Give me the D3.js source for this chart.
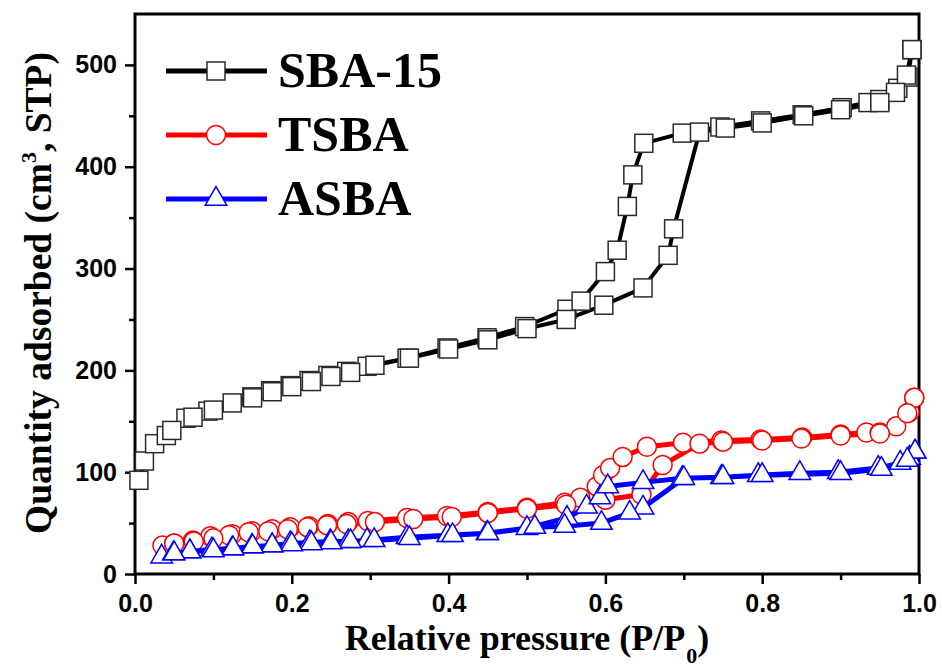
<!DOCTYPE html>
<html><head><meta charset="utf-8">
<script src="https://cdn.jsdelivr.net/npm/d3@7"></script>
<style>body{margin:0;background:#fff}svg{display:block}</style>
</head><body>
<svg id="chart" width="942" height="668"></svg>
<script>
// ---- data ----
const seriesNames = ["SBA-15", "TSBA", "ASBA"];
const xTickValues = [0, 0.2, 0.4, 0.6, 0.8, 1.0];
const xMinorTicks = [0.1, 0.3, 0.5, 0.7, 0.9];
const yTickValues = [0, 100, 200, 300, 400, 500];
const yMinorTicks = [50, 150, 250, 350, 450];

const sbaAdsorption = [[0.005,92],[0.012,111],[0.025,128],[0.04,136],[0.065,153],[0.093,160],[0.124,168],[0.149,174],[0.173,180],[0.198,185],[0.222,190],[0.246,195],[0.27,199],[0.296,204],[0.347,212],[0.398,222],[0.449,232],[0.497,243],[0.551,260],[0.569,268],[0.6,297],[0.615,318],[0.628,361],[0.635,392],[0.649,423],[0.698,433],[0.746,439],[0.798,445],[0.851,451],[0.902,458],[0.935,463],[0.95,466],[0.973,477],[0.986,488],[0.991,515]];
const sbaDesorption = [[0.991,515],[0.984,490],[0.97,473],[0.95,463],[0.9,456],[0.853,450],[0.8,443],[0.753,438],[0.72,434],[0.687,339],[0.68,313],[0.648,281],[0.598,264],[0.55,250],[0.5,241],[0.45,230],[0.4,221],[0.35,212],[0.306,205],[0.275,198],[0.25,194],[0.225,189],[0.2,184],[0.175,179],[0.15,173],[0.1,161],[0.074,154],[0.047,141]];

const tsbaAdsorption = [[0.035,28],[0.05,30],[0.074,33],[0.096,37],[0.124,39],[0.149,42],[0.175,44],[0.198,46],[0.222,47],[0.246,49],[0.272,51],[0.297,52],[0.347,55],[0.398,57],[0.45,61],[0.5,65],[0.548,70],[0.568,75],[0.589,86],[0.597,97],[0.606,104],[0.622,115],[0.653,125],[0.699,129],[0.748,131],[0.798,132],[0.851,134],[0.9,137],[0.933,139],[0.95,139],[0.971,145],[0.988,159],[0.994,173]];
const tsbaDesorption = [[0.994,173],[0.985,158],[0.95,138],[0.9,136],[0.85,133],[0.8,131],[0.75,130],[0.72,128],[0.673,107],[0.646,78],[0.6,73],[0.55,68],[0.5,64],[0.45,60],[0.404,56],[0.355,54],[0.306,51],[0.27,49],[0.245,48],[0.22,46],[0.195,44],[0.17,42],[0.145,41],[0.12,38],[0.1,35],[0.075,32],[0.05,30]];

const asbaAdsorption = [[0.034,17],[0.049,20],[0.07,22],[0.098,24],[0.124,25],[0.149,27],[0.175,28],[0.198,30],[0.223,31],[0.249,32],[0.272,32],[0.296,33],[0.347,36],[0.399,38],[0.449,40],[0.5,45],[0.551,55],[0.576,66],[0.593,75],[0.603,86],[0.648,90],[0.698,94],[0.748,95],[0.795,97],[0.848,99],[0.897,100],[0.948,104],[0.976,109],[0.988,114],[0.995,120]];
const asbaDesorption = [[0.995,120],[0.985,112],[0.952,103],[0.9,99],[0.8,97],[0.75,95],[0.7,94],[0.648,65],[0.631,60],[0.595,50],[0.548,47],[0.51,46],[0.45,40],[0.405,38],[0.35,35],[0.305,33],[0.275,32],[0.25,31],[0.225,30],[0.2,29],[0.175,28],[0.15,27],[0.125,25],[0.1,23],[0.07,22],[0.05,20]];

const seriesColors = ["#000000", "#ff0000", "#0000ff"];
const markerStroke = ["#2a2a2a", "#ff0000", "#0000ff"];

// ---- layout ----
const svg = d3.select("#chart");
const x = d3.scaleLinear().domain([0, 1]).range([135, 919]);
const y = d3.scaleLinear().domain([0, 550]).range([574, 14]);

const tickFont = "'Liberation Sans', Arial, sans-serif";
const serif = "'Liberation Serif', 'Times New Roman', serif";

// minor ticks
svg.append("g").attr("transform", "translate(0,574)")
  .call(d3.axisBottom(x).tickValues(xMinorTicks).tickSize(6).tickFormat(""))
  .call(g => g.select(".domain").remove())
  .call(g => g.selectAll("line").attr("stroke-width", 2.5));
svg.append("g").attr("transform", "translate(135,0)")
  .call(d3.axisLeft(y).tickValues(yMinorTicks).tickSize(6).tickFormat(""))
  .call(g => g.select(".domain").remove())
  .call(g => g.selectAll("line").attr("stroke-width", 2.5));

// major ticks
svg.append("g").attr("transform", "translate(0,574)")
  .call(d3.axisBottom(x).tickValues(xTickValues).tickSize(10).tickPadding(10).tickFormat(d3.format(".1f")))
  .call(g => g.select(".domain").remove())
  .call(g => g.selectAll("line").attr("stroke-width", 2.5))
  .call(g => g.selectAll("text").attr("font-family", tickFont).attr("font-weight", "bold").attr("font-size", 25).attr("fill", "#000"));
svg.append("g").attr("transform", "translate(135,0)")
  .call(d3.axisLeft(y).tickValues(yTickValues).tickSize(10).tickPadding(8).tickFormat(d3.format("d")))
  .call(g => g.select(".domain").remove())
  .call(g => g.selectAll("line").attr("stroke-width", 2.5))
  .call(g => g.selectAll("text").attr("font-family", tickFont).attr("font-weight", "bold").attr("font-size", 25).attr("fill", "#000"));

// frame
svg.append("rect")
  .attr("x", x(0)).attr("y", y(550))
  .attr("width", x(1) - x(0)).attr("height", y(0) - y(550))
  .attr("fill", "none").attr("stroke", "#000").attr("stroke-width", 3);

// ---- series ----
const line = d3.line().x(d => x(d[0])).y(d => y(d[1]));
const allSeries = [
  sbaAdsorption.concat(sbaDesorption),
  tsbaAdsorption.concat(tsbaDesorption),
  asbaAdsorption.concat(asbaDesorption)
];

function drawMarker(g, i, cx, cy) {
  if (i === 0) {
    g.append("rect").attr("x", cx - 9).attr("y", cy - 9).attr("width", 18).attr("height", 18)
      .attr("fill", "#fff").attr("stroke", markerStroke[0]).attr("stroke-width", 1.5);
  } else if (i === 1) {
    g.append("circle").attr("cx", cx).attr("cy", cy).attr("r", 9.5)
      .attr("fill", "#fff").attr("stroke", markerStroke[1]).attr("stroke-width", 1.5);
  } else {
    g.append("path").attr("d", d3.symbol(d3.symbolTriangle, 200)())
      .attr("transform", `translate(${cx},${cy})`)
      .attr("fill", "#fff").attr("stroke", markerStroke[2]).attr("stroke-width", 1.5);
  }
}

allSeries.forEach((data, i) => {
  const g = svg.append("g");
  g.append("path").datum(data).attr("d", line)
    .attr("fill", "none").attr("stroke", seriesColors[i])
    .attr("stroke-width", i === 0 ? 4 : 5).attr("stroke-linejoin", "round");
  data.forEach(d => drawMarker(g, i, x(d[0]), y(d[1])));
});

// ---- legend ----
const legendY = [71, 135, 199];
seriesNames.forEach((name, i) => {
  const g = svg.append("g");
  g.append("line").attr("x1", 166).attr("x2", 267).attr("y1", legendY[i]).attr("y2", legendY[i])
    .attr("stroke", seriesColors[i]).attr("stroke-width", 5);
  drawMarker(g, i, 216, legendY[i]);
  g.append("text").attr("x", 278).attr("y", legendY[i] + 16)
    .attr("font-family", serif).attr("font-weight", "bold").attr("font-size", 50)
    .attr("fill", "#000").text(name);
});

// ---- axis titles ----
const xt = svg.append("text").attr("x", 527).attr("y", 650).attr("text-anchor", "middle")
  .attr("font-family", serif).attr("font-weight", "bold").attr("font-size", 36).attr("fill", "#000");
xt.append("tspan").text("Relative pressure (P/P");
xt.append("tspan").attr("font-size", 22).attr("dy", 13).attr("dx", 1).text("0");
xt.append("tspan").attr("dy", -13).text(")");

const yt = svg.append("text").attr("transform", "translate(51,293) rotate(-90)").attr("text-anchor", "middle")
  .attr("font-family", serif).attr("font-weight", "bold").attr("font-size", 37.5).attr("fill", "#000");
yt.append("tspan").text("Quantity adsorbed (cm");
yt.append("tspan").attr("font-size", 22).attr("dy", -15).text("3");
yt.append("tspan").attr("dy", 15).text(", STP)");
</script>
</body></html>
